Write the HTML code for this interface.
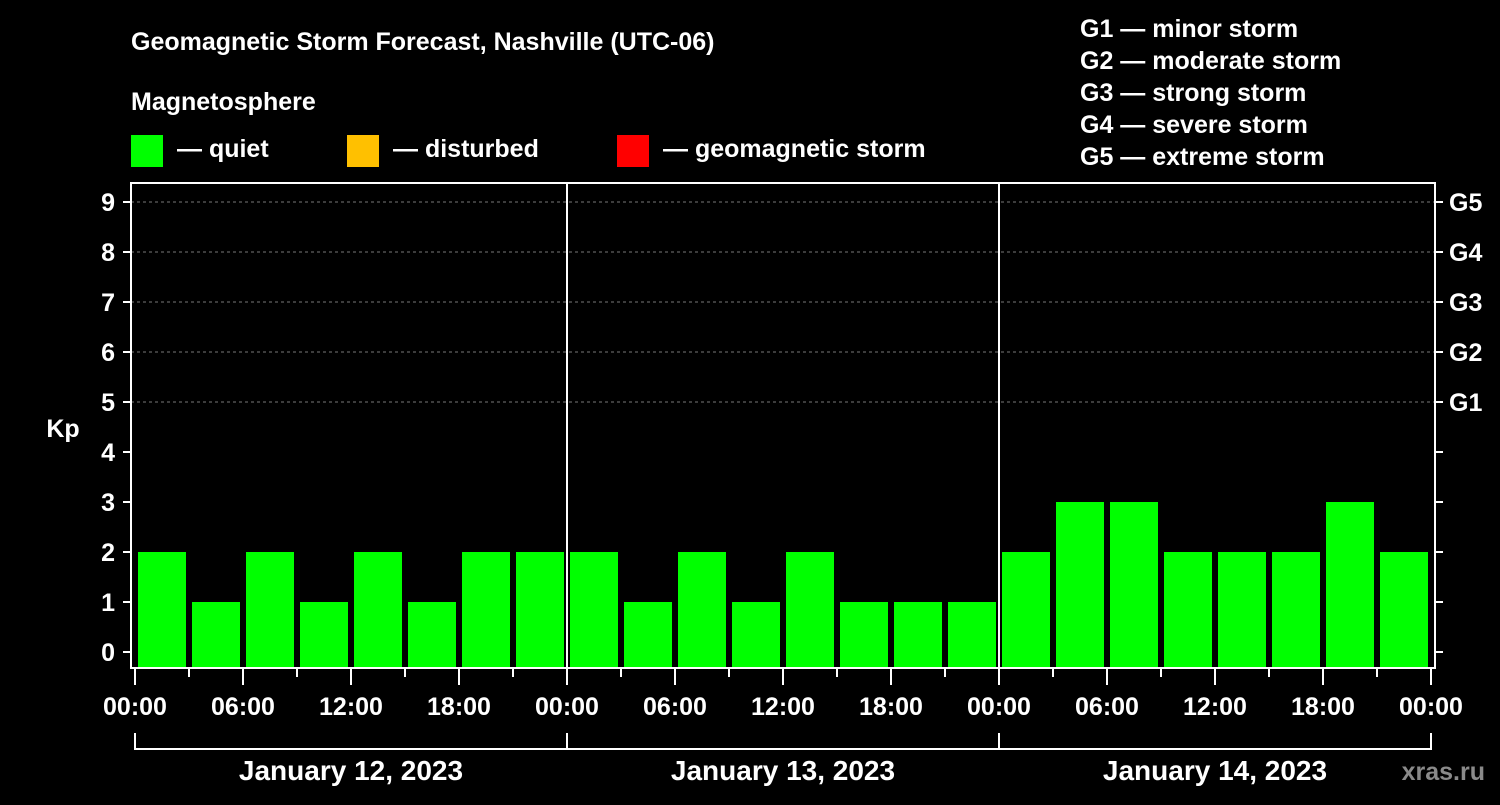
<!DOCTYPE html>
<html><head><meta charset="utf-8"><style>
html,body{margin:0;padding:0;background:#000;}
svg text{font-family:"Liberation Sans",Arial,sans-serif;font-weight:bold;fill:#fff;}
</style></head><body>
<svg id="chart" width="1500" height="800" xmlns="http://www.w3.org/2000/svg">
<rect x="0" y="0" width="1500" height="800" fill="#000"/>
<text x="131" y="50" font-size="25">Geomagnetic Storm Forecast, Nashville (UTC-06)</text>
<text x="131" y="110" font-size="25">Magnetosphere</text>
<g><rect x="131" y="135" width="32" height="32" fill="#00ff00"/><text x="177" y="157" font-size="25">— quiet</text></g>
<g><rect x="347" y="135" width="32" height="32" fill="#ffc000"/><text x="393" y="157" font-size="25">— disturbed</text></g>
<g><rect x="617" y="135" width="32" height="32" fill="#ff0000"/><text x="663" y="157" font-size="25">— geomagnetic storm</text></g>
<g font-size="25">
<text x="1080" y="37">G1 — minor storm</text>
<text x="1080" y="69">G2 — moderate storm</text>
<text x="1080" y="101">G3 — strong storm</text>
<text x="1080" y="133">G4 — severe storm</text>
<text x="1080" y="165">G5 — extreme storm</text>
</g>
<text x="63" y="437" font-size="25" text-anchor="middle">Kp</text>
<g id="plot"></g>
<text x="1485" y="780" font-size="25" text-anchor="end" fill="#888" style="fill:#8a8a8a">xras.ru</text>
</svg>
<script>
const kpValues=[2,1,2,1,2,1,2,2, 2,1,2,1,2,1,1,1, 2,3,3,2,2,2,3,2];
const dayLabels=["January 12, 2023","January 13, 2023","January 14, 2023"];
const yTicks=[0,1,2,3,4,5,6,7,8,9];
const gLabels=["G1","G2","G3","G4","G5"];
const hourLabels=["00:00","06:00","12:00","18:00"];

const NS="http://www.w3.org/2000/svg";
const g=document.getElementById('plot');
const L=131,R=1435,T=183,B=668,X0=135,PXH=18;
const xs=h=>X0+h*PXH;
const ys=v=>652-v*50;
function el(t,a,p){const e=document.createElementNS(NS,t);for(const k in a)e.setAttribute(k,a[k]);(p||g).appendChild(e);return e;}
function color(v){return v>=5?'#ff0000':(v>=4?'#ffc000':'#00ff00');}
// grid
yTicks.forEach(v=>{
 if(v>=5){const l=el('line',{x1:L,x2:R,y1:ys(v),y2:ys(v),stroke:'#777','stroke-dasharray':'3,3','stroke-width':1});
 
 }
 const t=el('line',{x1:L-8,x2:L,y1:ys(v),y2:ys(v),stroke:'#fff','stroke-width':2});
 
 
 const tx=el('text',{x:L-16,y:ys(v)+9,'font-size':25,'text-anchor':'end'});tx.textContent=v;
 
 
 const rt=el('line',{x1:R,x2:R+8,y1:ys(v),y2:ys(v),stroke:'#fff','stroke-width':2});
 
 
});
gLabels.forEach((s,i)=>{
 const tx=el('text',{x:R+14,y:ys(i+5)+9,'font-size':25});tx.textContent=s;
 
 
});
// bars
kpValues.forEach((v,i)=>{
 const b=el('rect',{x:xs(i*3)+3,y:ys(v),width:48,height:667-ys(v),fill:color(v)});
 
 
});
// box
const box=el('rect',{x:L,y:T,width:R-L,height:B-T,fill:'none',stroke:'#fff','stroke-width':2});


for(let d=1;d<dayLabels.length;d++){
 const s=el('line',{x1:xs(d*24),x2:xs(d*24),y1:T,y2:B,stroke:'#fff','stroke-width':2});
 
 
}
// x ticks
for(let h=0;h<=72;h+=3){
 const major=h%6===0;
 const t=el('line',{x1:xs(h),x2:xs(h),y1:B,y2:B+(major?17:9),stroke:'#fff','stroke-width':2});
 
 
 if(major){const tx=el('text',{x:xs(h),y:715,'font-size':25,'text-anchor':'middle'});tx.textContent=hourLabels[(h/6)%4];
 
 }
}
// day brackets
dayLabels.forEach((d,i)=>{
 const x1=xs(i*24),x2=xs((i+1)*24);
 const p=el('path',{d:`M${x1},733 V749 H${x2} V733`,fill:'none',stroke:'#fff','stroke-width':2});
 
 
 const tx=el('text',{x:(x1+x2)/2,y:780,'font-size':28,'text-anchor':'middle'});tx.textContent=d;
 
 
});
</script>
</body></html>
